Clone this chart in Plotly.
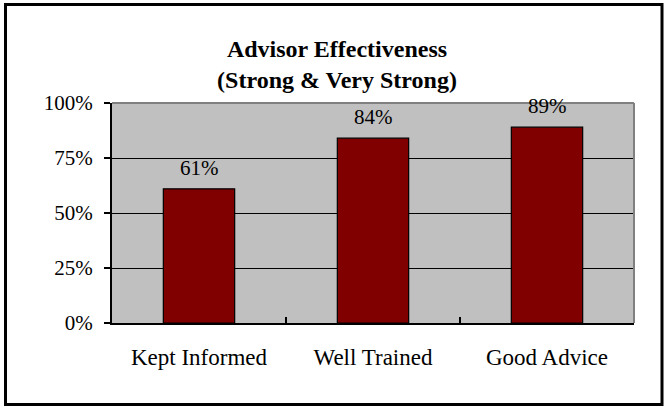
# Advisor effectiveness bar chart
import plotly.graph_objects as go

# ----------------------------------------------------------------------------------------------------------------------
# Data
# ----------------------------------------------------------------------------------------------------------------------
categories = ["Kept Informed", "Well Trained", "Good Advice"]
pct_values = [61, 84, 89]
y_ticks = [0, 25, 50, 75, 100]
y_tick_labels = ["0%", "25%", "50%", "75%", "100%"]
title = "Advisor Effectiveness<br>(Strong & Very Strong)"

# ----------------------------------------------------------------------------------------------------------------------
# Layout constants (pixels)
# ----------------------------------------------------------------------------------------------------------------------
W, H = 666, 408
ML, MR, MT, MB = 112, 32, 103, 85
PW, PH = W - ML - MR, H - MT - MB
FONT = "Liberation Serif, Times New Roman, serif"


def px_x(p):
    return (p - ML) / PW


def px_y(p):
    return (H - MB - p) / PH


fig = go.Figure()
fig.add_trace(go.Bar(x=categories, y=pct_values, marker_color="#800000",
                     marker_line_color="black", marker_line_width=1.2, showlegend=False))

# value labels above the bars
for cat, val in zip(categories, pct_values):
    fig.add_annotation(x=cat, y=val, text=f"{val}%", showarrow=False, yanchor="bottom", yshift=7,
                       font=dict(family=FONT, size=21, color="black"))

fig.update_layout(
    width=W, height=H, margin=dict(l=ML, r=MR, t=MT, b=MB),
    paper_bgcolor="white", plot_bgcolor="#C0C0C0", bargap=0.59,
    title=dict(text=title, x=0.506, xanchor="center", y=1 - 57 / H, yanchor="top",
               font=dict(family=FONT, size=24, color="black", weight="bold")),
    font=dict(family=FONT, color="black"),
)

fig.update_xaxes(showline=True, linecolor="black", linewidth=2, ticks="inside", tickson="boundaries",
                 ticklen=6, tickwidth=1.5, tickcolor="black", showgrid=False,
                 tickfont=dict(size=23), ticklabelstandoff=12)
fig.update_yaxes(range=[0, 100], tickvals=y_ticks, ticktext=y_tick_labels, showline=True, linecolor="black",
                 linewidth=2, ticks="outside", ticklen=6, tickwidth=1.5, tickcolor="black",
                 showgrid=True, gridcolor="black", gridwidth=1, zeroline=False,
                 tickfont=dict(size=21), ticklabelstandoff=7)

# gray top/right border of the plot area
fig.add_shape(type="line", xref="paper", yref="paper", x0=0, x1=1, y0=1, y1=1,
              line=dict(color="#808080", width=2), layer="above")
fig.add_shape(type="line", xref="paper", yref="paper", x0=1, x1=1, y0=0, y1=1,
              line=dict(color="#808080", width=2), layer="above")

# outer black frame
fig.add_shape(type="rect", xref="paper", yref="paper", x0=px_x(5.5), x1=px_x(662), y0=px_y(404.5), y1=px_y(4.5),
              line=dict(color="black", width=3), layer="above")

fig.write_html("out.html", config={"displayModeBar": False},
               post_script="document.body.style.margin='0';")
